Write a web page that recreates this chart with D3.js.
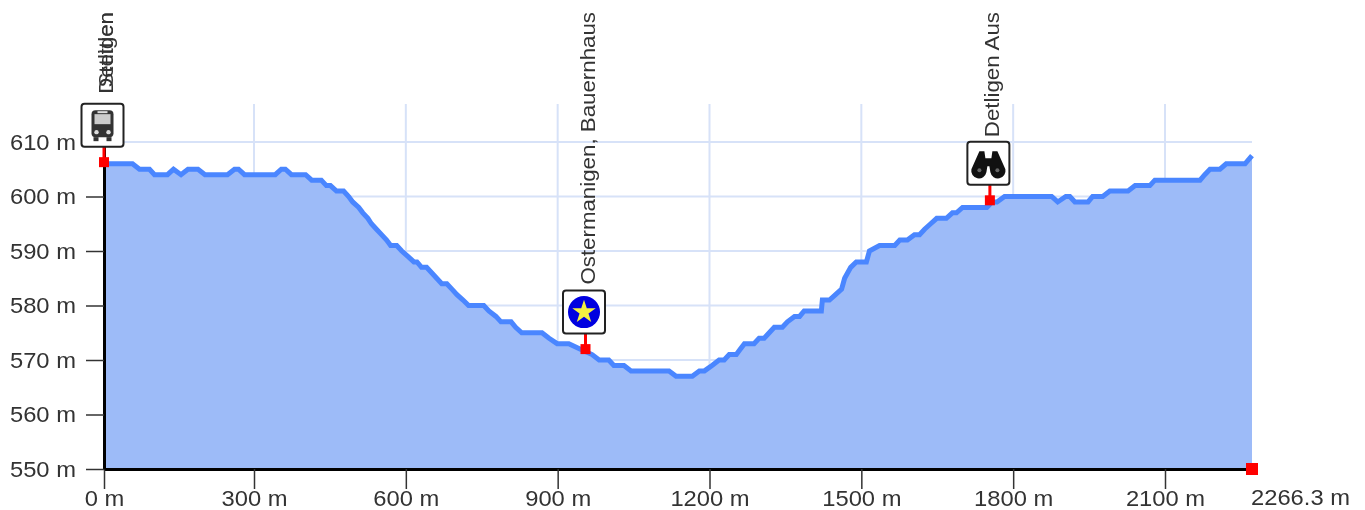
<!DOCTYPE html>
<html>
<head>
<meta charset="utf-8">
<script src="https://cdn.jsdelivr.net/npm/d3@7"></script>
<style>
    html, body { margin: 0; padding: 0; background: #fff; overflow: hidden; }
    svg { display: block; filter: blur(0.45px); }
    text { font-family: "Liberation Sans", Arial, sans-serif; fill: #333; }
</style>
</head>
<body>
<div id="chart"></div>
<script>
// профиль высот: дистанция в метрах и высота
const distances = [0, 57, 71, 91, 101, 127, 139, 154, 168, 188, 202, 247, 261, 269, 281, 342, 354, 362, 374, 402,
    414, 433, 443, 451, 463, 477, 487, 495, 507, 515, 525, 532, 542, 552, 562, 570, 582, 592, 604, 616, 622, 631,
    641, 651, 661, 671, 681, 691, 701, 713, 724, 754, 764, 778, 788, 808, 817, 829, 869, 883, 899, 922, 944, 968,
    982, 1001, 1011, 1031, 1045, 1120, 1134, 1166, 1180, 1190, 1205, 1219, 1229, 1239, 1253, 1261, 1269, 1288, 1298,
    1308, 1318, 1328, 1344, 1354, 1368, 1378, 1387, 1421, 1423, 1437, 1449, 1461, 1467, 1479, 1490, 1510, 1516, 1536,
    1566, 1576, 1591, 1605, 1615, 1625, 1637, 1649, 1668, 1680, 1688, 1700, 1748, 1758, 1768, 1783, 1876, 1888, 1904,
    1912, 1922, 1948, 1957, 1977, 1991, 2027, 2041, 2070, 2080, 2167, 2176, 2186, 2205, 2217, 2253, 2266.3]
const elevations = [606, 606, 605, 605, 604, 604, 605, 604, 605, 605, 604, 604, 605, 605, 604, 604, 605, 605, 604, 604,
    603, 603, 602, 602, 601, 601, 600, 599, 598, 597, 596, 595, 594, 593, 592, 591, 591, 590, 589, 588, 588, 587,
    587, 586, 585, 584, 584, 583, 582, 581, 580, 580, 579, 578, 577, 577, 576, 575, 575, 574, 573, 573, 572, 571,
    570, 570, 569, 569, 568, 568, 567, 567, 568, 568, 569, 570, 570, 571, 571, 572, 573, 573, 574,
    574, 575, 576, 576, 577, 578, 578, 579, 579, 581, 581, 582, 583, 585, 587, 588, 588, 590, 591,
    591, 592, 592, 593, 593, 594, 595, 596, 596, 597, 597, 598, 598, 599, 599, 600, 600, 599, 600,
    600, 599, 599, 600, 600, 601, 601, 602, 602, 603, 603, 604, 605, 605, 606, 606, 607.5]

const xTicks = [0, 300, 600, 900, 1200, 1500, 1800, 2100]
const yTicks = [550, 560, 570, 580, 590, 600, 610]
const totalLength = 2266.3

// точки маршрута
const stopDistances = [0, 955, 1754]
const stopElevations = [606.3, 572, 599.3]
const stopIcons = ['bus', 'star', 'binoculars']
const stopLabels = [['Detligen', 'Stettlen'], ['Ostermanigen, Bauernhaus'], ['Detligen Aus']]

const width = 1365
const height = 510
const gridTop = 104

const x = d3.scaleLinear().domain([0, 300, 2100, totalLength]).range([104, 254, 1165, 1252])
const y = d3.scaleLinear().domain([550, 610]).range([469, 142])

const svg = d3.select('#chart').append('svg').attr('width', width).attr('height', height)
const points = distances.map((d, i) => ({ d: d, e: elevations[i] }))

// сетка
const grid = svg.append('g').attr('stroke', '#d7e2f8').attr('stroke-width', 2)
grid.selectAll('.gx').data(xTicks.slice(1)).enter().append('line')
    .attr('x1', d => x(d)).attr('x2', d => x(d)).attr('y1', gridTop).attr('y2', y(550))
grid.selectAll('.gy').data(yTicks.slice(1)).enter().append('line')
    .attr('x1', x(0)).attr('x2', x(totalLength)).attr('y1', d => y(d)).attr('y2', d => y(d))

// область и линия профиля
const area = d3.area().x(d => x(d.d)).y0(y(550)).y1(d => y(d.e))
const line = d3.line().x(d => x(d.d)).y(d => y(d.e))
svg.append('path').datum(points).attr('d', area).attr('fill', '#9dbbf8')
svg.append('path').datum(points).attr('d', line).attr('fill', 'none')
    .attr('stroke', '#4a86ff').attr('stroke-width', 5).attr('stroke-linejoin', 'miter')

// оси
const axisX = svg.append('g').attr('transform', 'translate(0,' + y(550) + ')')
    .call(d3.axisBottom(x).tickValues(xTicks).tickFormat(d => d + ' m').tickSizeInner(20).tickSizeOuter(0).tickPadding(1))
const axisY = svg.append('g').attr('transform', 'translate(' + x(0) + ',0)')
    .call(d3.axisLeft(y).tickValues(yTicks).tickFormat(d => d + ' m').tickSizeInner(18).tickSizeOuter(0).tickPadding(8))

;[axisX, axisY].forEach(axis => {
    axis.select('.domain').attr('stroke', '#000').attr('stroke-width', 3)
    axis.selectAll('.tick line').attr('stroke', '#333').attr('stroke-width', 1.5)
    axis.selectAll('.tick text').attr('font-size', 22).attr('font-family', null).attr('fill', '#333')
        .attr('transform', 'scale(1.08,1)')
})

svg.append('text')
    .attr('transform', 'translate(' + (x(totalLength) - 1) + ',505) scale(1.08,1)')
    .attr('font-size', 22)
    .text(totalLength + ' m')

// значки
function drawIcon(g, name) {
    g.append('rect').attr('x', -21).attr('y', -43).attr('width', 42).attr('height', 43).attr('rx', 3)
        .attr('fill', '#fff').attr('stroke', '#222').attr('stroke-width', 2)
    const c = g.append('g').attr('transform', 'translate(0,-21.5)')
    if (name === 'bus') {
        c.append('rect').attr('x', -11).attr('y', -15).attr('width', 22).attr('height', 27).attr('rx', 4).attr('fill', '#333')
        c.append('rect').attr('x', -8).attr('y', -11).attr('width', 16).attr('height', 10).attr('fill', '#ccc')
        c.append('rect').attr('x', -5).attr('y', -14).attr('width', 10).attr('height', 2).attr('fill', '#ddd')
        c.append('circle').attr('cx', -6).attr('cy', 7).attr('r', 2.2).attr('fill', '#ddd')
        c.append('circle').attr('cx', 6).attr('cy', 7).attr('r', 2.2).attr('fill', '#ddd')
        c.append('rect').attr('x', -9).attr('y', 12).attr('width', 5).attr('height', 4).attr('fill', '#333')
        c.append('rect').attr('x', 4).attr('y', 12).attr('width', 5).attr('height', 4).attr('fill', '#333')
    } else if (name === 'star') {
        c.append('circle').attr('r', 16).attr('fill', '#0000e0')
        c.append('path').attr('d', d3.symbol().type(d3.symbolStar).size(170)).attr('fill', '#f4f040')
    } else {
        c.append('path').attr('fill', '#111')
            .attr('d', 'M-4,-12 L-9,-12 L-17,6 A7.5,7.5 0 0 0 -2,9 L-1,3 L1,3 L2,9 A7.5,7.5 0 0 0 17,6 L9,-12 L4,-12 L3,-5 L-3,-5 Z')
        c.append('circle').attr('cx', -9).attr('cy', 7).attr('r', 2).attr('fill', '#666')
        c.append('circle').attr('cx', 9).attr('cy', 7).attr('r', 2).attr('fill', '#666')
    }
}

stopDistances.forEach((d, i) => {
    const px = x(d)
    const py = y(stopElevations[i])
    svg.append('line').attr('x1', px).attr('x2', px).attr('y1', py).attr('y2', py - 16)
        .attr('stroke', '#f00').attr('stroke-width', 3)
    svg.append('rect').attr('x', px - 5).attr('y', py - 5).attr('width', 10).attr('height', 10).attr('fill', '#f00')
    drawIcon(svg.append('g').attr('transform', 'translate(' + (px - 1.5) + ',' + (py - 15.5) + ')'), stopIcons[i])
    stopLabels[i].forEach(label => {
        svg.append('text')
            .attr('transform', 'translate(' + (px + 9) + ',12) rotate(-90) scale(1.115,1)')
            .attr('text-anchor', 'end')
            .attr('font-size', 20)
            .text(label)
    })
})

// конец маршрута
svg.append('rect').attr('x', x(totalLength) - 6).attr('y', y(550) - 6).attr('width', 12).attr('height', 12).attr('fill', '#f00')
</script>
</body>
</html>
